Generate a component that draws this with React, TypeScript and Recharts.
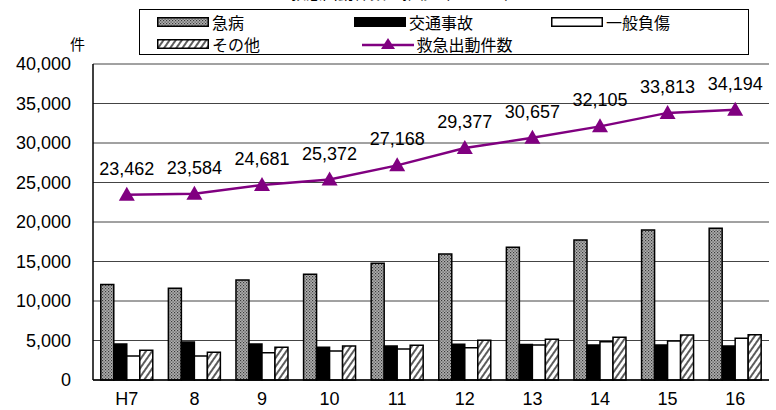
import React from "react";
import {
  ComposedChart,
  Bar,
  Line,
  XAxis,
  YAxis,
  CartesianGrid,
  Legend,
  LabelList,
} from "recharts";

const years = ["H7", "8", "9", "10", "11", "12", "13", "14", "15", "16"];
const kyubyo = [12100, 11600, 12650, 13380, 14770, 15950, 16800, 17720, 18990, 19200];
const kotsu = [4560, 4810, 4560, 4130, 4300, 4510, 4500, 4430, 4430, 4300];
const ippan = [3040, 3040, 3460, 3670, 3920, 4090, 4430, 4850, 4940, 5270];
const sonota = [3760, 3500, 4130, 4300, 4390, 5020, 5150, 5400, 5700, 5740];
const shutsudo = [23462, 23584, 24681, 25372, 27168, 29377, 30657, 32105, 33813, 34194];
const yTicks = [0, 5000, 10000, 15000, 20000, 25000, 30000, 35000, 40000];

const data = years.map((y, i) => ({
  year: y,
  kyubyo: kyubyo[i],
  kotsu: kotsu[i],
  ippan: ippan[i],
  sonota: sonota[i],
  shutsudo: shutsudo[i],
}));

const NUM_FONT = "'Liberation Sans', Arial, sans-serif";
const JP_FONT = "'Noto Sans CJK JP', 'Noto Sans', sans-serif";
const PURPLE = "#800080";

const fmt = (v: unknown) => Number(v).toLocaleString("en-US");

const Triangle = (props: any) => {
  const { cx, cy, index } = props;
  if (cx == null || cy == null) return <g key={index} />;
  return (
    <path
      key={index}
      d={`M${cx},${cy - 8} L${cx + 8},${cy + 6} L${cx - 8},${cy + 6} Z`}
      fill={PURPLE}
    />
  );
};

const Swatch = ({ fill }: { fill: string }) => (
  <svg width={52} height={10} style={{ display: "block" }}>
    <rect x={0.75} y={0.75} width={50.5} height={8.5} fill={fill} stroke="#000" strokeWidth={1.5} />
  </svg>
);

const LineSwatch = () => (
  <svg width={52} height={14} style={{ display: "block" }}>
    <line x1={0} y1={8} x2={52} y2={8} stroke={PURPLE} strokeWidth={2.5} />
    <path d="M26,1 L33,12 L19,12 Z" fill={PURPLE} />
  </svg>
);

const legendRows = [
  [
    { name: "急病", node: <Swatch fill="url(#patKyubyo)" /> },
    { name: "交通事故", node: <Swatch fill="#000" /> },
    { name: "一般負傷", node: <Swatch fill="#fff" /> },
  ],
  [
    { name: "その他", node: <Swatch fill="url(#patSonota)" /> },
    { name: "救急出動件数", node: <LineSwatch /> },
  ],
];

const LegendBox = () => (
  <div
    style={{
      width: 610,
      height: 46,
      boxSizing: "border-box",
      border: "1px solid #000",
      background: "#fff",
      fontFamily: JP_FONT,
      fontSize: 16,
      color: "#000",
      paddingLeft: 17,
      paddingTop: 1,
    }}
  >
    {legendRows.map((row, r) => (
      <div key={r} style={{ display: "flex", height: 22, alignItems: "center" }}>
        {row.map((it) => (
          <div key={it.name} style={{ display: "flex", alignItems: "center", width: 204.5 }}>
            {it.node}
            <span style={{ marginLeft: 3, lineHeight: "17px" }}>{it.name}</span>
          </div>
        ))}
      </div>
    ))}
  </div>
);

export default function App() {
  return (
    <div style={{ position: "fixed", left: 0, top: 0, width: 776, height: 410, background: "#fff", overflow: "hidden" }}>
      <div
        style={{
          position: "absolute",
          left: 290,
          top: -16,
          fontFamily: JP_FONT,
          fontSize: 16,
          lineHeight: "16px",
          whiteSpace: "nowrap",
          color: "#000",
        }}
      >
        救急出動件数の推移（H7～16）
      </div>
      <div
        style={{
          position: "absolute",
          left: 70,
          top: 35,
          fontFamily: JP_FONT,
          fontSize: 15,
          lineHeight: "18px",
          color: "#000",
        }}
      >
        件
      </div>
      <ComposedChart
        width={776}
        height={410}
        data={data}
        margin={{ top: 64, right: 7, bottom: 0, left: 0 }}
        barCategoryGap="11.5%"
        barGap={0}
      >
        <defs>
          <pattern id="patKyubyo" width={3} height={3} patternUnits="userSpaceOnUse">
            <rect width={3} height={3} fill="#b0b0b0" />
            <rect x={0} y={0} width={1.2} height={1.2} fill="#3a3a3a" />
            <rect x={1.5} y={1.5} width={1.2} height={1.2} fill="#4a4a4a" />
          </pattern>
          <pattern
            id="patSonota"
            width={5}
            height={5}
            patternUnits="userSpaceOnUse"
            patternTransform="rotate(35)"
          >
            <rect width={5} height={5} fill="#fff" />
            <line x1={1} y1={0} x2={1} y2={5} stroke="#333" strokeWidth={1.6} />
          </pattern>
        </defs>
        <CartesianGrid vertical={false} stroke="#444" strokeWidth={1} />
        <XAxis
          dataKey="year"
          height={30}
          tickSize={0}
          tickMargin={12}
          axisLine={{ stroke: "#000", strokeWidth: 1.5 }}
          tick={{ fill: "#000", fontSize: 18, fontFamily: NUM_FONT }}
        />
        <YAxis
          width={93}
          domain={[0, 40000]}
          ticks={yTicks}
          tickSize={0}
          tickMargin={22}
          tickFormatter={fmt}
          axisLine={{ stroke: "#000", strokeWidth: 1.5 }}
          tick={{ fill: "#000", fontSize: 18, fontFamily: NUM_FONT }}
        />
        <YAxis
          yAxisId="right"
          orientation="right"
          width={0}
          domain={[0, 40000]}
          tick={false}
          tickLine={false}
          axisLine={{ stroke: "#000", strokeWidth: 1.5 }}
        />
        <Legend
          layout="horizontal"
          verticalAlign="middle"
          align="center"
          wrapperStyle={{ top: 9, left: 139, width: 610, height: 46 }}
          content={() => <LegendBox />}
        />
        <Bar dataKey="kyubyo" name="急病" fill="url(#patKyubyo)" stroke="#000" strokeWidth={1.5} isAnimationActive={false} />
        <Bar dataKey="kotsu" name="交通事故" fill="#000" stroke="#000" strokeWidth={1.5} isAnimationActive={false} />
        <Bar dataKey="ippan" name="一般負傷" fill="#fff" stroke="#000" strokeWidth={1.5} isAnimationActive={false} />
        <Bar dataKey="sonota" name="その他" fill="url(#patSonota)" stroke="#000" strokeWidth={1.5} isAnimationActive={false} />
        <Line
          dataKey="shutsudo"
          name="救急出動件数"
          stroke={PURPLE}
          strokeWidth={2.5}
          dot={Triangle}
          activeDot={false}
          isAnimationActive={false}
        >
          <LabelList
            dataKey="shutsudo"
            position="top"
            offset={20}
            formatter={fmt}
            style={{ fill: "#000", fontSize: 18, fontFamily: NUM_FONT }}
          />
        </Line>
      </ComposedChart>
    </div>
  );
}
